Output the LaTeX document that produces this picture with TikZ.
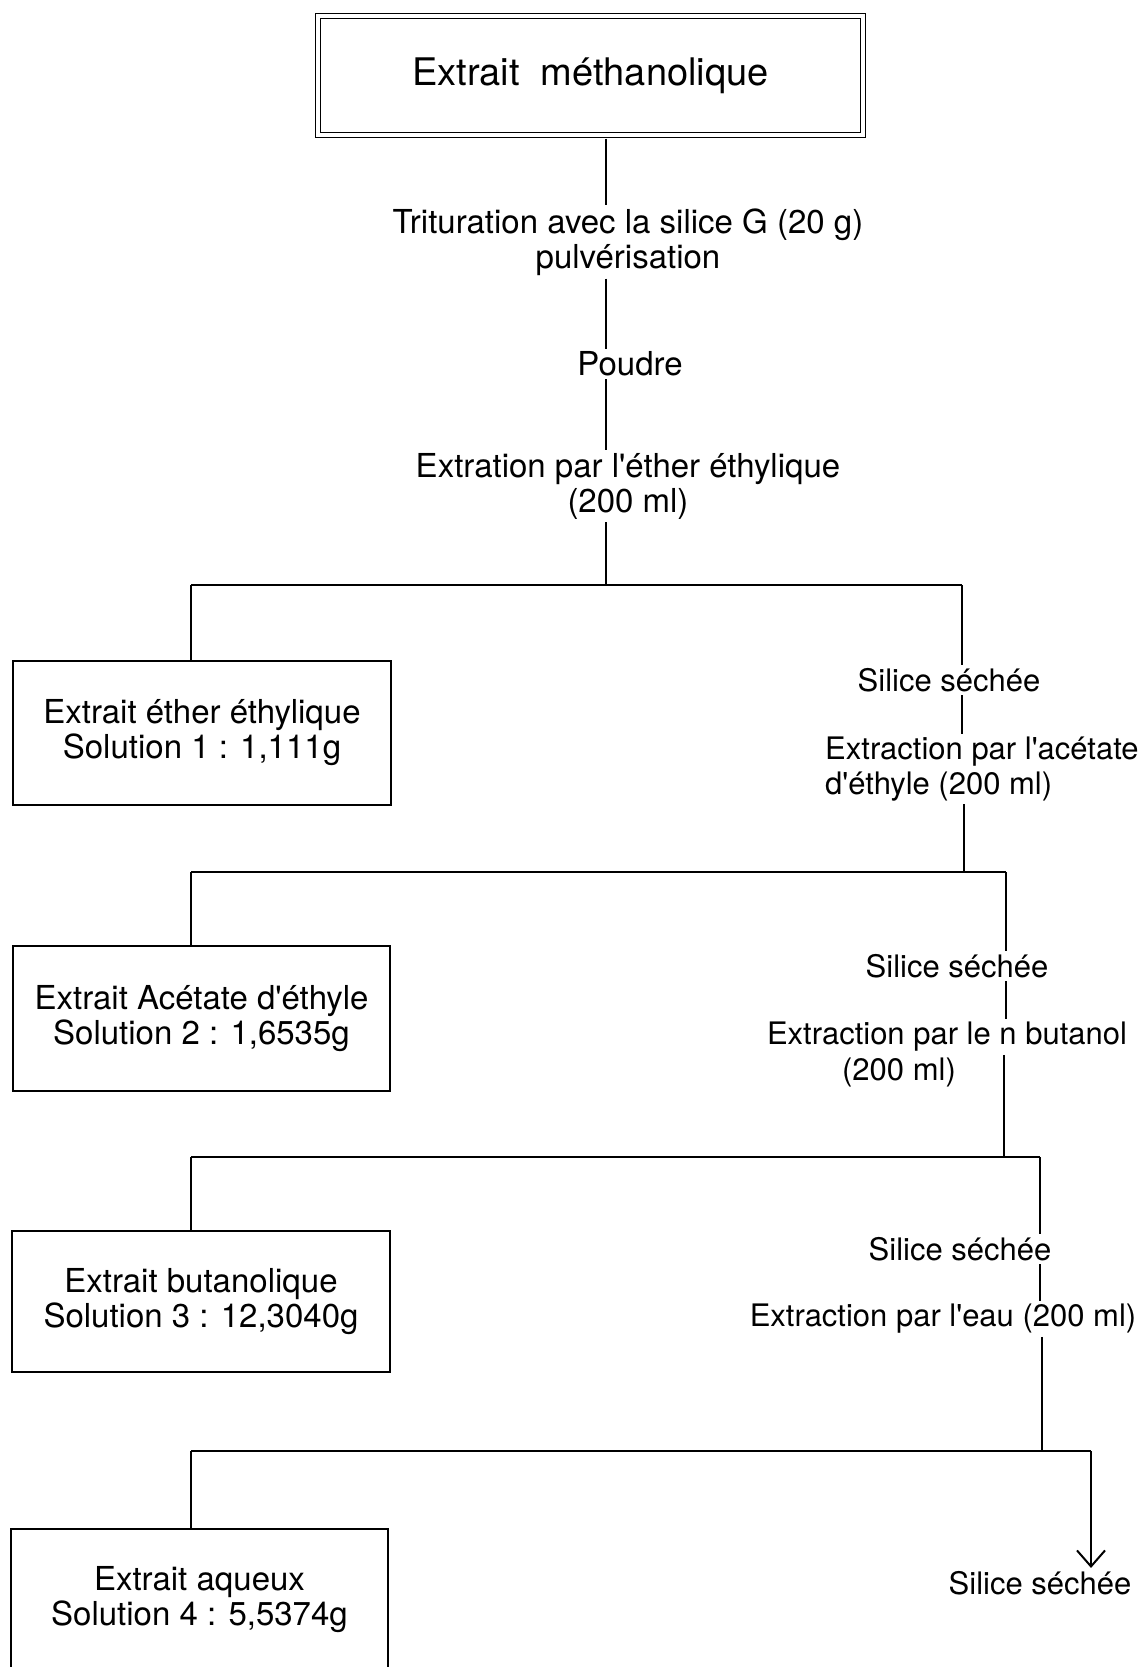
\documentclass[tikz,border=0pt]{standalone}
\usepackage{fontspec}
\setmainfont{TeX Gyre Heros}
\usetikzlibrary{arrows.meta}
\newcommand{\ap}{\textquotesingle}
\begin{document}
\begin{tikzpicture}[x=1pt,y=-1pt,
  txt/.style={font=\fontsize{31}{35}\selectfont, inner sep=3pt, align=center},
  bigtxt/.style={font=\fontsize{33}{35}\selectfont, inner sep=3pt, align=center},
  box/.style={draw, line width=1.6pt, font=\fontsize{33}{35}\selectfont, align=center, inner sep=0pt},
  titlebox/.style={draw, line width=1.3pt, double, double distance=3.5pt, font=\fontsize{38}{40}\selectfont, inner sep=0pt, minimum width=545pt, minimum height=119pt},
  link/.style={line width=1.6pt}]
\useasboundingbox[fill=white] (0,0) rectangle (1145,1667);

\node[titlebox] (t) at (590.5,75.5) {Extrait\ \ méthanolique};

\node[bigtxt] (trit) at (628,242) {Trituration avec la silice G (20 g)\\pulvérisation};
\node[bigtxt] (poudre) at (630,364) {Poudre};
\node[bigtxt] (ether) at (628,486) {Extration par l\ap éther éthylique\\(200 ml)};

\node[box, minimum width=378pt, minimum height=144pt] (b1) at (202,733) {Extrait éther éthylique\\Solution 1 : 1,111g};
\node[txt] (sil1) at (949,680) {Silice séchée};
\node[txt, align=left, anchor=west] (acet) at (822,769) {Extraction par l\ap acétate\\d\ap éthyle (200 ml)};

\node[box, minimum width=377pt, minimum height=145pt] (b2) at (201.5,1018.5) {Extrait Acétate d\ap éthyle\\Solution 2 : 1,6535g};
\node[txt] (sil2) at (957,966) {Silice séchée};
\node[txt] (but1) at (947,1037) {Extraction par le n butanol};
\node[txt] (but2) at (899,1072) {(200 ml)};

\node[box, minimum width=378pt, minimum height=141pt] (b3) at (201,1301.5) {Extrait butanolique\\Solution 3 : 12,3040g};
\node[txt] (sil3) at (960,1249) {Silice séchée};
\node[txt] (eau) at (943,1319) {Extraction par l\ap eau (200 ml)};

\node[font=\fontsize{33}{35}\selectfont, align=center, inner sep=0pt, minimum width=377pt, minimum height=142pt] (b4) at (199.5,1600) {Extrait aqueux\\Solution 4 : 5,5374g};
\node[txt] (sil4) at (1040,1583) {Silice séchée};

\coordinate (j1) at (606,585);
\coordinate (j1l) at (191,585);
\coordinate (j1r) at (962,585);
\coordinate (j2) at (964,872);
\coordinate (j2l) at (191,872);
\coordinate (j2r) at (1006,872);
\coordinate (j3) at (1004,1157);
\coordinate (j3l) at (191,1157);
\coordinate (j3r) at (1040,1157);
\coordinate (j4) at (1042,1451);
\coordinate (j4l) at (191,1451);
\coordinate (j4r) at (1091,1451);

\draw[link] (b4.south west) -- (b4.north west) -- (b4.north east) -- (b4.south east);

\draw[link] (t.south -| j1) ++(0,3) -- (trit.north -| j1);
\draw[link] (trit.south -| j1) -- (poudre.north -| j1);
\draw[link] (poudre.south -| j1) -- (ether.north -| j1);
\draw[link] (ether.south -| j1) -- (j1);
\draw[link] (j1l) -- (j1r);
\draw[link] (j1l) -- (b1.north -| j1l);
\draw[link] (j1r) -- (sil1.north -| j1r);
\draw[link] (sil1.south -| j1r) -- (acet.north -| j1r);
\draw[link] (acet.south -| j2) -- (j2);
\draw[link] (j2l) -- (j2r);
\draw[link] (j2l) -- (b2.north -| j2l);
\draw[link] (j2r) -- (sil2.north -| j2r);
\draw[link] (sil2.south -| j2r) -- (but1.north -| j2r);
\draw[link] (but1.south -| j3) -- (j3);
\draw[link] (j3l) -- (j3r);
\draw[link] (j3l) -- (b3.north -| j3l);
\draw[link] (j3r) -- (sil3.north -| j3r);
\draw[link] (sil3.south -| j3r) -- (eau.north -| j3r);
\draw[link] (eau.south -| j4) -- (j4);
\draw[link] (j4l) -- (j4r);
\draw[link] (j4l) -- (b4.north -| j4l);
\draw[link, -{Straight Barb[length=16pt, width=28pt, line width=2pt]}] (j4r) -- (sil4.north -| j4r);
\end{tikzpicture}
\end{document}
